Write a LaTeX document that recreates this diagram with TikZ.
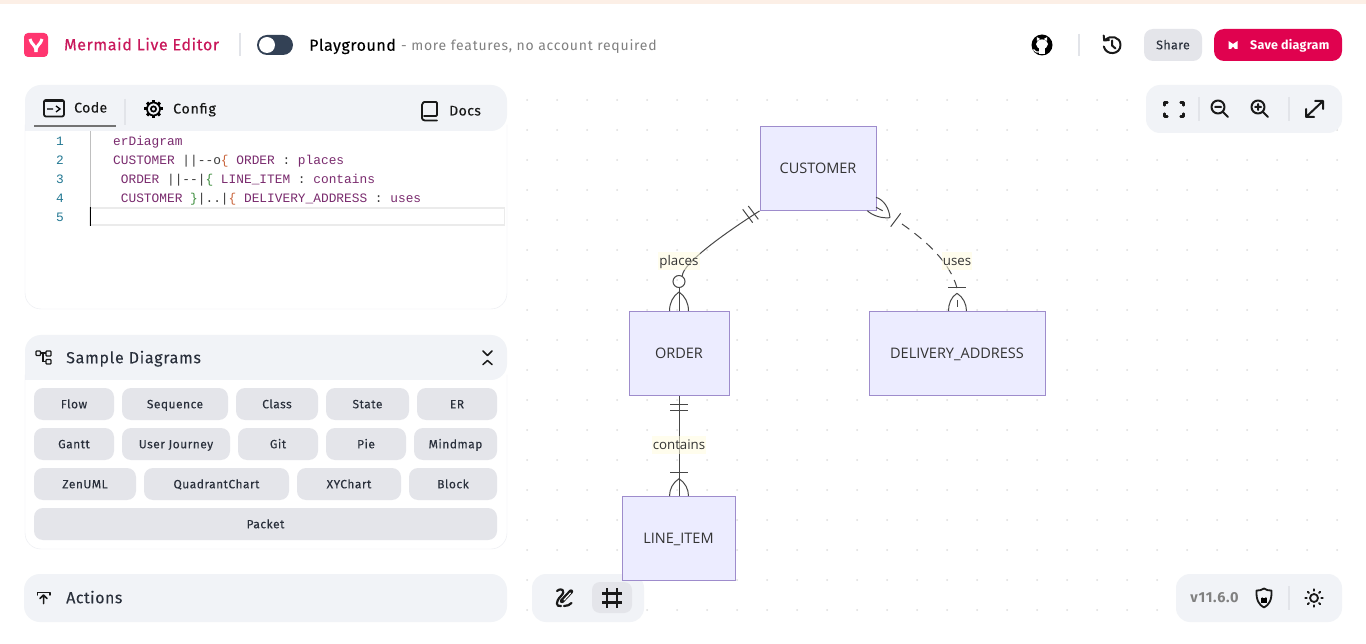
\documentclass[tikz,border=0pt]{standalone}
\usepackage{fontspec}
\setmainfont{Fira Sans}
\setmonofont{Liberation Mono}
\newfontfamily\erfont{Open Sans}
\newcommand{\fsz}[1]{\fontsize{#1}{#1}\selectfont}
\definecolor{panelbg}{HTML}{F1F3F7}
\definecolor{btnbg}{HTML}{E4E5EA}
\definecolor{panelline}{HTML}{E9EBF0}
\definecolor{uitext}{HTML}{2A303C}
\definecolor{sepc}{HTML}{E2E4E9}
\definecolor{brand}{HTML}{C9185B}
\definecolor{savec}{HTML}{E0024F}
\definecolor{logoc}{HTML}{FF3670}
\definecolor{togglec}{HTML}{334155}
\definecolor{topc}{HTML}{FCEFE6}
\definecolor{erfill}{HTML}{ECECFF}
\definecolor{erline}{HTML}{9E8CCC}
\definecolor{codep}{HTML}{7A2B6E}
\definecolor{coded}{HTML}{3A3A3A}
\definecolor{codeo}{HTML}{C9653C}
\definecolor{codeg}{HTML}{3F8F3F}
\definecolor{lnum}{HTML}{237893}
\tikzset{
  ernode/.style={draw=erline,fill=erfill,line width=1pt,inner sep=0pt,text=black!80,text height=10.3pt,text depth=0pt,font=\erfont\fsz{14.5}},
  erlab/.style={inner sep=1pt,text=black!80,text height=12.6pt,text depth=3pt,font=\erfont\fsz{13.3},fill=yellow!12!white,fill opacity=.55,text opacity=1},
  erstroke/.style={draw=black!72,line width=1pt},
  btn/.style={fill=btnbg,rounded corners=9pt,minimum height=32pt,inner sep=0pt,text=uitext,text height=10.6pt,text depth=2pt,font=\fsz{12}\addfontfeatures{LetterSpace=4,FakeBold=.1}},
  uilabel/.style={inner sep=0pt,anchor=west,text=uitext},
  tsmall/.style={text height=12pt,text depth=2pt},
  tlarge/.style={text height=13.5pt,text depth=2pt},
  codeln/.style={inner sep=0pt,anchor=west,font=\ttfamily\fsz{12.83},text=codep,text height=10.8pt,text depth=2pt},
  numln/.style={inner sep=0pt,font=\ttfamily\fsz{12.83},text=lnum},
  icon/.style={line width=1.8pt,line cap=round,line join=round,draw=black!90},
  sepline/.style={draw=sepc,line width=1.2pt}
}
\begin{document}
\begin{tikzpicture}[x=1pt,y=-1pt]
\useasboundingbox (0,0) rectangle (1366,644);
\fill[white] (0,0) rectangle (1366,644);
\fill[topc] (0,0) rectangle (1366,4);
% grid dots
\foreach \gx in {527,557,...,1337}
  \foreach \gy in {100,130,...,610}
    \fill[black!13] (\gx,\gy) circle (1);
% header
\fill[logoc,rounded corners=4pt] (24,33) rectangle (48,57);
\draw[white,line width=3pt,line join=round] (30,39) .. controls (31,45) and (36,44) .. (36,52);
\draw[white,line width=3pt] (42,39) .. controls (41,45) and (36,44) .. (36,52);
\node[uilabel,tlarge,text=brand,font=\fsz{16}\addfontfeatures{LetterSpace=4,FakeBold=.3}] (brandname) at (64,44.5) {Mermaid Live Editor};
\draw[sepline] (240,33) -- (240,56);
\fill[togglec,rounded corners=10pt] (257,35) rectangle (293,55);
\fill[white] (267,45) circle (8);
\node[uilabel,tlarge,text=black,font=\fsz{16}\addfontfeatures{LetterSpace=3.5,FakeBold=.2}] (playground) at (309,45) {Playground};
\node[uilabel,tsmall,text=black!50,font=\fsz{14}\addfontfeatures{LetterSpace=5.4}] (playnote) at (401,45.5) {- more features, no account required};
% github
\fill[black] (1042,45) circle (10.5);
\fill[white] (1042,44.2) ellipse (6 and 4.8);
\fill[white] (1036.8,41) -- (1036.8,37) -- (1040.2,39) -- cycle;
\fill[white] (1047.2,41) -- (1047.2,37) -- (1043.8,39) -- cycle;
\fill[white] (1039,47) rectangle (1045,54.3);
\draw[white,line width=1.2pt] (1033.5,49.5) .. controls (1035,52) and (1037,52.5) .. (1039,52);
\draw[sepline] (1079,34) -- (1079,56);
% history
\draw[icon,line width=2pt] (1105.5,39.5) .. controls (1110,35) and (1120.5,36.5) .. (1120.5,45) .. controls (1120.5,55) and (1106,56) .. (1103.8,46.5);
\draw[icon,line width=2pt] (1103.7,35.5) -- (1104.2,40.5) -- (1109,40);
\draw[icon,line width=2pt] (1112,40.5) -- (1112,45.5) -- (1115.5,48.5);
\node[btn,minimum width=58pt,font=\fsz{12.5}\addfontfeatures{LetterSpace=3,FakeBold=.1}] (share) at (1173,45) {Share};
\node[fill=savec,rounded corners=10pt,minimum width=128pt,minimum height=32pt,inner sep=0pt] (save) at (1278,45) {};
\fill[white] (1228.5,41) -- (1233,44) -- (1237.5,41) -- (1237.5,49) -- (1235,49) -- (1233,46.5) -- (1231,49) -- (1228.5,49) -- cycle;
\node[uilabel,text=white,text height=11pt,text depth=2pt,font=\bfseries\fsz{12.5}\addfontfeatures{LetterSpace=2}] (savetext) at (1250,45) {Save diagram};
% top-right toolbar
\fill[panelbg,rounded corners=14pt] (1146,85) rectangle (1342,133);
\draw[icon,line width=2.2pt] (1164.5,105.5) -- (1164.5,102.5) -- (1167.5,102.5) (1180.5,102.5) -- (1183.5,102.5) -- (1183.5,105.5);
\draw[icon,line width=2.2pt] (1164.5,113.5) -- (1164.5,116.5) -- (1167.5,116.5) (1180.5,116.5) -- (1183.5,116.5) -- (1183.5,113.5);
\draw[sepline] (1199,97) -- (1199,121);
\draw[icon,line width=2pt] (1218,107) circle (6.5) (1223,112) -- (1228,117) (1215,107) -- (1221,107);
\draw[sepline] (1289,97) -- (1289,121);
\draw[icon,line width=2pt] (1258,107) circle (6.5) (1263,112) -- (1268,117) (1255,107) -- (1261,107) (1258,104) -- (1258,110);
\draw[icon,line width=2pt] (1306,117) -- (1323,101) (1315,101) -- (1323,101) -- (1323,109) (1306,109) -- (1306,117) -- (1314,117);
% code panel
\fill[white,rounded corners=16pt] (25,85) rectangle (507,309);
\fill[panelbg,rounded corners=16pt] (25,131) -- (25,85) -- (507,85) -- (507,131) [sharp corners] -- cycle;
\draw[panelline,rounded corners=16pt] (25,125) -- (25,309) -- (507,309) -- (507,125);
\draw[icon,rounded corners=2pt] (44,100) rectangle (64,116.5);
\draw[icon] (44,101.5) -- (64,101.5);
\draw[black,line width=1.3pt] (47,109) -- (53,109) (56,106) -- (60,109) -- (56,112);
\node[uilabel,tsmall,text=black!90,font=\fsz{14}\addfontfeatures{LetterSpace=3,FakeBold=.2}] (codetab) at (74,107.5) {Code};
\draw[black!55,line width=2pt] (34,126) -- (116,126);
\draw[sepline] (125,99) -- (125,125);
\draw[black,line width=1.7pt] (153.5,109) circle (6.5);
\draw[black,line width=1.7pt] (153.5,109) circle (2.6);
\foreach \ang in {0,45,...,315}
  \draw[black,line width=3pt] (153.5,109) ++(\ang:6.5) -- ++(\ang:2.6);
\node[uilabel,tsmall,text=black!90,font=\fsz{14}\addfontfeatures{LetterSpace=6,FakeBold=.2}] (configtab) at (173,108.5) {Config};
\draw[icon,rounded corners=1pt] (424,102) -- (437,102) -- (437,116) -- (424,116) (424,102) -- (422,104) -- (422,119) -- (424,120.5) -- (437,120.5);
\node[uilabel,tsmall,text=black!90,font=\fsz{14}\addfontfeatures{LetterSpace=3,FakeBold=.2}] (docstab) at (449,110.5) {Docs};
% editor
\draw[black!25,line width=.8pt] (90.5,131) -- (90.5,207);
\draw[black!8,line width=1.5pt,fill=white] (90,208) rectangle (504.5,225);
\draw[black,line width=1.6pt] (90.5,207) -- (90.5,226);
\foreach \n/\yy in {1/141,2/160,3/179,4/198,5/217}
  \node[numln] (num\n) at (60,\yy) {\n};
\node[codeln] (code1) at (113,141) {erDiagram};
\node[codeln] (code2) at (113,160) {CUSTOMER \textcolor{coded}{||-{}-o}\textcolor{codeo}{\{} ORDER \textcolor{coded}{:} places};
\node[codeln] (code3) at (120.7,179) {ORDER \textcolor{coded}{||-{}-|}\textcolor{codeg}{\{} LINE\_ITEM \textcolor{coded}{:} contains};
\node[codeln] (code4) at (120.7,198) {CUSTOMER \textcolor{codeg}{\}}\textcolor{coded}{|..|}\textcolor{codeo}{\{} DELIVERY\_ADDRESS \textcolor{coded}{:} uses};
% sample panel
\fill[white,rounded corners=16pt] (25,335) rectangle (507,549);
\fill[panelbg,rounded corners=16pt] (25,380) -- (25,335) -- (507,335) -- (507,380) [sharp corners] -- cycle;
\draw[panelline,rounded corners=16pt] (25,375) -- (25,549) -- (507,549) -- (507,375);
\draw[black!90,line width=1.3pt,rounded corners=.8pt] (36,351) rectangle (40.5,355.5) (46,351) rectangle (51,356) (46,359.5) rectangle (51,364);
\draw[black!90,line width=1.3pt] (40.5,353) -- (46,353) (43,353) -- (43,361.5) -- (46,361.5);
\node[uilabel,tlarge,font=\fsz{16}\addfontfeatures{LetterSpace=4.5,FakeBold=.1}] (sampletitle) at (66,357.5) {Sample Diagrams};
\draw[icon,line width=1.5pt] (483,351) -- (487.5,355.5) -- (492,351) (483,364.5) -- (487.5,360.5) -- (492,364.5);
\node[btn,minimum width=80pt] (flow) at (74,404) {Flow};
\node[btn,minimum width=106pt] (sequence) at (175,404) {Sequence};
\node[btn,minimum width=82pt] (class) at (277,404) {Class};
\node[btn,minimum width=83pt] (state) at (367.5,404) {State};
\node[btn,minimum width=80pt] (er) at (457,404) {ER};
\node[btn,minimum width=80pt] (gantt) at (74,444) {Gantt};
\node[btn,minimum width=108pt] (journey) at (176,444) {User Journey};
\node[btn,minimum width=80pt] (git) at (278,444) {Git};
\node[btn,minimum width=80pt] (pie) at (366,444) {Pie};
\node[btn,minimum width=83pt] (mindmap) at (455.5,444) {Mindmap};
\node[btn,minimum width=102pt] (zenuml) at (85,484) {ZenUML};
\node[btn,minimum width=145pt] (quadrant) at (216.5,484) {QuadrantChart};
\node[btn,minimum width=104pt] (xychart) at (349,484) {XYChart};
\node[btn,minimum width=88pt] (block) at (453,484) {Block};
\node[btn,minimum width=463pt] (packet) at (265.5,524) {Packet};
% actions
\fill[panelbg,rounded corners=16pt] (24,574) rectangle (507,622);
\draw[icon,line width=1.5pt] (37.5,595) -- (37.5,592.5) -- (50,592.5) -- (50,595);
\draw[icon,line width=1.5pt] (43.5,603.5) -- (43.5,595.5) (40,598.5) -- (43.5,595) -- (47,598.5);
\node[uilabel,tlarge,font=\fsz{16}\addfontfeatures{LetterSpace=3,FakeBold=.1}] (actions) at (66,597.5) {Actions};
% bottom-left tools
\fill[panelbg,rounded corners=14pt] (532,574) rectangle (644,622);
\fill[btnbg,rounded corners=8pt] (592,582) rectangle (632,613);
\draw[icon,line width=2.2pt] (557,591) .. controls (562,587) and (566,591) .. (561,596) .. controls (555,602) and (556,607) .. (561,606) (564,606) .. controls (567,606) and (570,605) .. (571.5,603);
\draw[icon,line width=4.4pt] (562,601) -- (571,591.5);
\draw[white,line width=1.2pt,line cap=round] (564,600) -- (570.5,593);
\draw[icon,line width=2.4pt,line cap=butt] (607,588) -- (607,608) (617,588) -- (617,608) (602,593.5) -- (622,593.5) (602,602.5) -- (622,602.5);
% bottom-right tools
\fill[panelbg,rounded corners=14pt] (1176,574) rectangle (1342,622);
\node[inner sep=0pt,text=black!50,font=\bfseries\fsz{14.5}\addfontfeatures{LetterSpace=5}] (version) at (1214.5,597.5) {v11.6.0};
\draw[icon] (1264,588.5) .. controls (1268,590.5) .. (1271.5,590.5) .. controls (1272,600) and (1269,605) .. (1264,607.5) .. controls (1259,605) and (1256,600) .. (1256.5,590.5) .. controls (1260,590.5) .. (1264,588.5) -- cycle;
\fill[black] (1260.7,597.5) rectangle (1267.3,603);
\draw[black,line width=1.1pt] (1262,597.5) arc[start angle=180,end angle=0,radius=2];
\draw[sepline] (1289,586) -- (1289,610);
\draw[icon] (1314,598) circle (4);
\foreach \ang in {0,45,...,315}
  \draw[icon] (1314,598) ++(\ang:7.2) -- ++(\ang:1.6);
% ER diagram
\node[ernode,minimum width=116pt,minimum height=84pt] (customer) at (818,168.5) {CUSTOMER};
\node[ernode,minimum width=100pt,minimum height=84pt] (order) at (679,353.3) {ORDER};
\node[ernode,minimum width=176pt,minimum height=84pt] (delivery) at (957,353.3) {DELIVERY\_ADDRESS};
\node[ernode,minimum width=113pt,minimum height=84pt] (lineitem) at (678.5,538) {LINE\_ITEM};
% places
\node[circle,draw=black!72,line width=1pt,minimum size=12pt,inner sep=0pt] (zeroend) at (679,281.5) {};
\draw[erstroke] (customer.south west) .. controls (725,233) and (683,263) .. (zeroend.60);
\draw[erstroke] (zeroend.south) -- (order.north);
\draw[erstroke] (742.7,209.3) -- (752.7,222.7) (748.3,206) -- (758.3,219.3);
\draw[erstroke] (679,292) .. controls (673,296) and (669.5,303) .. (669.5,311);
\draw[erstroke] (679,292) .. controls (685,296) and (688.5,303) .. (688.5,311);
\node[erlab] (placeslab) at (679,261) {places};
% contains
\draw[erstroke] (order.south) -- (order.south |- lineitem.north);
\draw[erstroke] (670,404) -- (688,404) (670,410.7) -- (688,410.7) (670,472) -- (688,472);
\draw[erstroke] (679,478.7) .. controls (673,482.5) and (669.5,489) .. (669.5,496);
\draw[erstroke] (679,478.7) .. controls (685,482.5) and (688.5,489) .. (688.5,496);
\node[erlab] (containslab) at (679,445) {contains};
% uses
\coordinate (usesstart) at (902,224);
\coordinate (usesend) at (957,288);
\draw[erstroke] (876,197.3) .. controls (884,200) and (889,208) .. (890,217.7);
\draw[erstroke] (867.3,210.7) .. controls (873,216) and (882,218.5) .. (890,217.7);
\draw[erstroke] (876,207.3) -- (882.7,210.7);
\draw[erstroke] (890.7,226.7) -- (900.7,213.3);
\draw[erstroke,dash pattern=on 9pt off 6.5pt] (usesstart) .. controls (925,240) and (950,262) .. (usesend);
\draw[erstroke] (948.3,287.7) -- (966,287.7);
\draw[erstroke] (957,293.3) .. controls (951,297) and (948.5,304) .. (948.5,311);
\draw[erstroke] (957,293.3) .. controls (963,297) and (966.5,304) .. (966.5,311);
\draw[erstroke] (957,300) -- (957,307);
\node[erlab] (useslab) at (957,261) {uses};
\end{tikzpicture}
\end{document}
